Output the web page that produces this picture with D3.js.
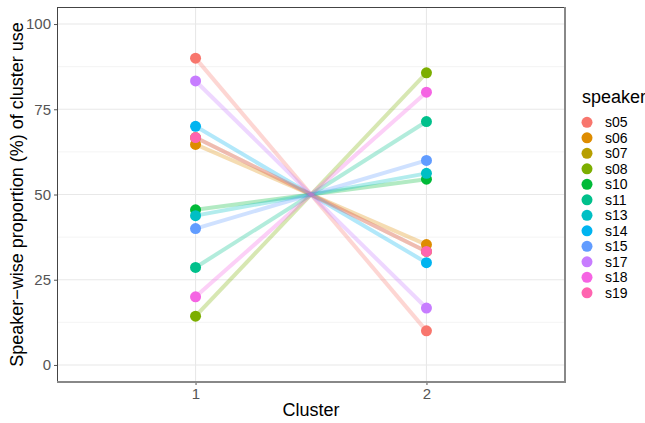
<!DOCTYPE html>
<html>
<head>
<meta charset="utf-8">
<script src="https://cdn.jsdelivr.net/npm/d3@7"></script>
<style>
  body { margin: 0; background: #fff; }
  svg text { font-family: "Liberation Sans", Arial, sans-serif; }
</style>
</head>
<body>
<div id="chart"></div>
<script>
// speakers in legend order, with value at cluster 1 and cluster 2 (%)
const speakers = ['s05', 's06', 's07', 's08', 's10', 's11', 's13', 's14', 's15', 's17', 's18', 's19'];
const cluster1 = [90.0, 64.7, 66.7, 14.3, 45.5, 28.6, 43.8, 70.0, 40.0, 83.3, 20.0, 66.7];
const cluster2 = [10.0, 35.3, 33.3, 85.7, 54.5, 71.4, 56.2, 30.0, 60.0, 16.7, 80.0, 33.3];
const clusters = [1, 2];
const yTicks = [0, 25, 50, 75, 100];
const yMinor = [12.5, 37.5, 62.5, 87.5];
const colours = ['#F8766D', '#DE8C00', '#B79F00', '#7CAE00', '#00BA38', '#00C08B',
  '#00BFC4', '#00B4F0', '#619CFF', '#C77CFF', '#F564E3', '#FF64B0'];

const width = 645, height = 423;
const margin = {top: 7, right: 80, bottom: 41, left: 57};
const pw = width - margin.left - margin.right;
const ph = height - margin.top - margin.bottom;

const svg = d3.select('#chart').append('svg')
  .attr('width', width).attr('height', height);
const g = svg.append('g').attr('transform', `translate(${margin.left},${margin.top})`);

const x = d3.scaleLinear().domain([0.4, 2.6]).range([0, pw]);
const y = d3.scaleLinear().domain([-5, 105]).range([ph, 0]);
const colour = d3.scaleOrdinal().domain(speakers).range(colours);

// grid
g.selectAll('.minor').data(yMinor).enter().append('line')
  .attr('x1', 0).attr('x2', pw).attr('y1', d => y(d)).attr('y2', d => y(d))
  .attr('stroke', '#ededed').attr('stroke-width', 0.6);
g.selectAll('.major').data(yTicks).enter().append('line')
  .attr('x1', 0).attr('x2', pw).attr('y1', d => y(d)).attr('y2', d => y(d))
  .attr('stroke', '#e8e8e8').attr('stroke-width', 1.1);
g.selectAll('.vmajor').data(clusters).enter().append('line')
  .attr('y1', 0).attr('y2', ph).attr('x1', d => x(d)).attr('x2', d => x(d))
  .attr('stroke', '#e8e8e8').attr('stroke-width', 1.1);

const data = speakers.map((s, i) => ({speaker: s, values: [cluster1[i], cluster2[i]]}));

// lines
const line = d3.line().x((d, i) => x(clusters[i])).y(d => y(d));
g.selectAll('.ln').data(data).enter().append('path')
  .attr('d', d => line(d.values))
  .attr('fill', 'none')
  .attr('stroke', d => colour(d.speaker))
  .attr('stroke-width', 4)
  .attr('stroke-opacity', 0.3);

// points
data.forEach(d => {
  g.selectAll(null).data(d.values).enter().append('circle')
    .attr('cx', (v, i) => x(clusters[i]))
    .attr('cy', v => y(v))
    .attr('r', 5.5)
    .attr('fill', colour(d.speaker));
});

// axes
const yAxis = g.append('g').call(d3.axisLeft(y).tickValues(yTicks).tickSize(3).tickPadding(3));
const xAxis = g.append('g').attr('transform', `translate(0,${ph})`)
  .call(d3.axisBottom(x).tickValues(clusters).tickFormat(d3.format('d')).tickSize(3).tickPadding(3));
[yAxis, xAxis].forEach(a => {
  a.select('.domain').remove();
  a.selectAll('line').attr('stroke', '#555');
  a.selectAll('text').attr('fill', '#555').style('font-size', '15px')
    .style('font-family', '"Liberation Sans", Arial, sans-serif');
});

// panel border
g.append('line').attr('x1', 0).attr('x2', pw).attr('y1', 0.5).attr('y2', 0.5)
  .attr('stroke', '#444').attr('stroke-width', 1);
g.append('line').attr('x1', 0.5).attr('x2', 0.5).attr('y1', 0).attr('y2', ph)
  .attr('stroke', '#444').attr('stroke-width', 1);
g.append('line').attr('x1', 0).attr('x2', pw + 1).attr('y1', ph).attr('y2', ph)
  .attr('stroke', '#888').attr('stroke-width', 2);
g.append('line').attr('x1', pw).attr('x2', pw).attr('y1', 0).attr('y2', ph + 1)
  .attr('stroke', '#888').attr('stroke-width', 2);

// axis titles
svg.append('text')
  .attr('x', margin.left + pw / 2).attr('y', 416)
  .attr('text-anchor', 'middle').style('font-size', '18px').attr('fill', '#000')
  .text('Cluster');
svg.append('text')
  .attr('transform', `translate(23,${margin.top + ph / 2}) rotate(-90)`)
  .attr('text-anchor', 'middle').style('font-size', '18px').attr('fill', '#000')
  .text('Speaker\u2212wise proportion (%) of cluster use');

// legend
const legend = svg.append('g').attr('transform', 'translate(582,0)');
legend.append('text').attr('x', 0).attr('y', 103)
  .style('font-size', '18px').attr('fill', '#000').text('speaker');
const items = legend.selectAll('.item').data(speakers).enter().append('g')
  .attr('transform', (d, i) => `translate(0,${122.3 + i * 15.5})`);
items.append('circle').attr('cx', 5).attr('cy', 0).attr('r', 5.5).attr('fill', d => colour(d));
items.append('text').attr('x', 23).attr('y', 5)
  .style('font-size', '14px').attr('fill', '#000').text(d => d);
</script>
</body>
</html>
